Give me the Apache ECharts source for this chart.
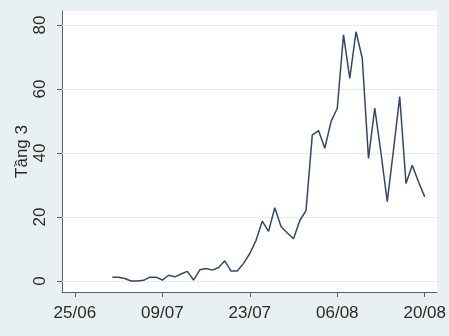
<!DOCTYPE html>
<html>
<head>
<meta charset="utf-8">
<script src="https://cdn.jsdelivr.net/npm/echarts@6/dist/echarts.min.js"></script>
<style>
  html, body { margin: 0; padding: 0; background: #e9f0f2; }
  #chart { width: 449px; height: 336px; }
</style>
</head>
<body>
<div id="chart"></div>
<script>
// Daily counts, one value per day starting on the first date below
const year = 2021;
const firstDay = '01/07';
const counts = [
  1.2, 1.2, 0.8, 0.0, 0.0, 0.2, 1.2, 1.2, 0.3, 1.8,
  1.3, 2.2, 3.0, 0.3, 3.5, 3.9, 3.4, 4.2, 6.3, 3.1,
  3.1, 5.5, 8.6, 12.7, 18.7, 15.5, 22.9, 17.0, 15.0, 13.2,
  18.9, 22.0, 45.6, 47.0, 41.5, 49.8, 54.0, 76.9, 63.3, 77.9,
  69.6, 38.3, 54.0, 40.0, 24.8, 41.0, 57.6, 30.5, 36.2, 31.0,
  26.3
];
const xTickLabels = ['25/06', '09/07', '23/07', '06/08', '20/08'];
const yTicks = [0, 20, 40, 60, 80];
const yTitle = 'Tầng 3';

// Day numbers counted from the first x tick date
const DAY = 86400000;
function toDate(s) {
  const [d, m] = s.split('/').map(Number);
  return Date.UTC(year, m - 1, d);
}
const origin = toDate(xTickLabels[0]);
const xTicks = xTickLabels.map(s => Math.round((toDate(s) - origin) / DAY));
const labelOf = {};
xTickLabels.forEach((s, i) => { labelOf[xTicks[i]] = s; });
const start = Math.round((toDate(firstDay) - origin) / DAY);
const points = counts.map((v, i) => [start + i, v]);

const font = 'Liberation Sans, Arial, sans-serif';
const axisColor = '#5a5f63';
const textColor = '#2a2a2a';

const chart = echarts.init(document.getElementById('chart'), null, { renderer: 'canvas' });
chart.setOption({
  animation: false,
  backgroundColor: '#e9f0f2',
  grid: {
    left: 62, right: 9, top: 11, bottom: 44,
    show: true, backgroundColor: '#ffffff', borderWidth: 0
  },
  xAxis: {
    type: 'value',
    min: -2.06, max: 57.95,
    axisLine: { show: true, onZero: false, lineStyle: { color: axisColor, width: 1 } },
    axisTick: { show: true, customValues: xTicks, length: 5, lineStyle: { color: axisColor } },
    axisLabel: {
      customValues: xTicks,
      formatter: v => labelOf[Math.round(v)] || '',
      margin: 13, fontFamily: font, fontSize: 17, color: textColor
    },
    splitLine: { show: false }
  },
  yAxis: {
    type: 'value',
    min: -3.44, max: 84.38,
    name: yTitle,
    nameLocation: 'middle',
    nameGap: 31,
    nameMoveOverlap: false,
    nameTextStyle: { fontFamily: font, fontSize: 17, color: textColor },
    axisLine: { show: true, onZero: false, lineStyle: { color: axisColor, width: 1 } },
    axisTick: { show: true, customValues: yTicks, length: 5, lineStyle: { color: axisColor } },
    axisLabel: {
      customValues: yTicks,
      rotate: 90,
      margin: 13, fontFamily: font, fontSize: 17, color: textColor
    },
    splitLine: { show: false }
  },
  series: [{
    type: 'line',
    data: points,
    showSymbol: false,
    lineStyle: { color: '#34476b', width: 1.5 },
    markLine: {
      silent: true,
      symbol: 'none',
      label: { show: false },
      lineStyle: { color: '#e6eef0', type: 'solid', width: 1 },
      data: yTicks.map(v => ({ yAxis: v })),
      z: 1
    },
    z: 3
  }]
});
</script>
</body>
</html>
